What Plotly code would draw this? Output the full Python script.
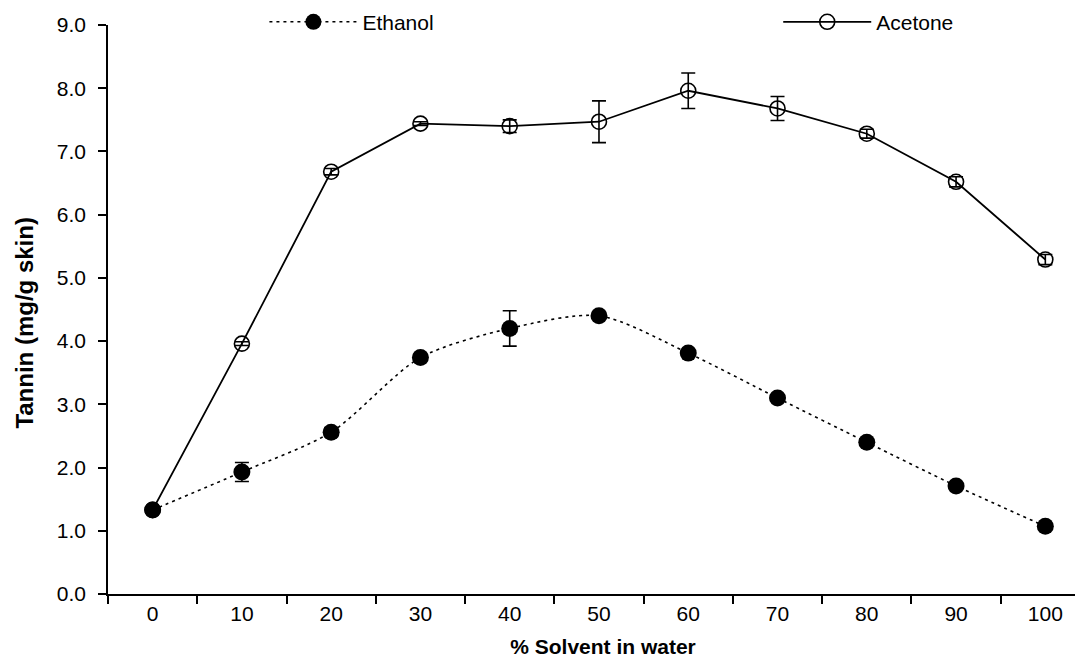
import plotly.graph_objects as go

solvent = ["0", "10", "20", "30", "40", "50", "60", "70", "80", "90", "100"]
ethanol = [1.33, 1.93, 2.56, 3.74, 4.20, 4.40, 3.81, 3.10, 2.40, 1.71, 1.07]
ethanol_err = [0.03, 0.15, 0.07, 0.04, 0.28, 0.03, 0.03, 0.05, 0.04, 0.04, 0.04]
acetone = [1.33, 3.96, 6.68, 7.44, 7.40, 7.47, 7.96, 7.68, 7.28, 6.52, 5.29]
acetone_err = [0.03, 0.03, 0.05, 0.03, 0.10, 0.33, 0.28, 0.19, 0.07, 0.08, 0.08]

fig = go.Figure()

fig.add_trace(go.Scatter(
    x=solvent, y=acetone, name="Acetone", mode="lines+markers",
    line=dict(color="black", width=1.8),
    marker=dict(symbol="circle-open", size=15, color="black", line=dict(width=1.6)),
    error_y=dict(type="data", array=acetone_err, color="black", thickness=1.6, width=7),
    legend="legend2", showlegend=True,
))

fig.add_trace(go.Scatter(
    x=solvent, y=ethanol, name="Ethanol", mode="lines+markers",
    line=dict(color="black", width=1.6, dash="3px,4px", shape="spline", smoothing=0.8),
    marker=dict(symbol="circle", size=17, color="black"),
    error_y=dict(type="data", array=ethanol_err, color="black", thickness=1.6, width=7),
    legend="legend", showlegend=True,
))

font_family = "Liberation Sans, Arial, sans-serif"

fig.update_layout(
    width=1091, height=659,
    margin=dict(l=100, r=1, t=17, b=73, autoexpand=False),
    showlegend=True,
    paper_bgcolor="white", plot_bgcolor="white",
    font=dict(family=font_family, size=21, color="black"),
    legend=dict(x=0.158, y=1.005, xanchor="left", yanchor="middle", itemwidth=88,
                bgcolor="rgba(0,0,0,0)", font=dict(size=21)),
    legend2=dict(x=0.677, y=1.005, xanchor="left", yanchor="middle", itemwidth=88,
                 bgcolor="rgba(0,0,0,0)", font=dict(size=21)),
    xaxis=dict(
        type="category", range=[-0.5, 10.59], tickson="boundaries",
        ticks="outside", ticklen=8, tickwidth=1.5, tickcolor="black",
        showline=True, linecolor="black", linewidth=1.5,
        showgrid=False, zeroline=False,
        tickfont=dict(size=21),
        title=dict(text="<b>% Solvent in water</b>", font=dict(size=21), standoff=15),
    ),
    yaxis=dict(
        range=[0, 9], dtick=1, tickformat=".1f",
        ticks="outside", ticklen=8, tickwidth=1.5, tickcolor="black",
        showline=True, linecolor="black", linewidth=1.5,
        showgrid=False, zeroline=False,
        tickfont=dict(size=21), ticklabelstandoff=8,
        title=dict(text="<b>Tannin (mg/g skin)</b>&#160;&#160;&#160;&#160;",
                   font=dict(size=24), standoff=16),
    ),
)

fig.write_html("out.html")
